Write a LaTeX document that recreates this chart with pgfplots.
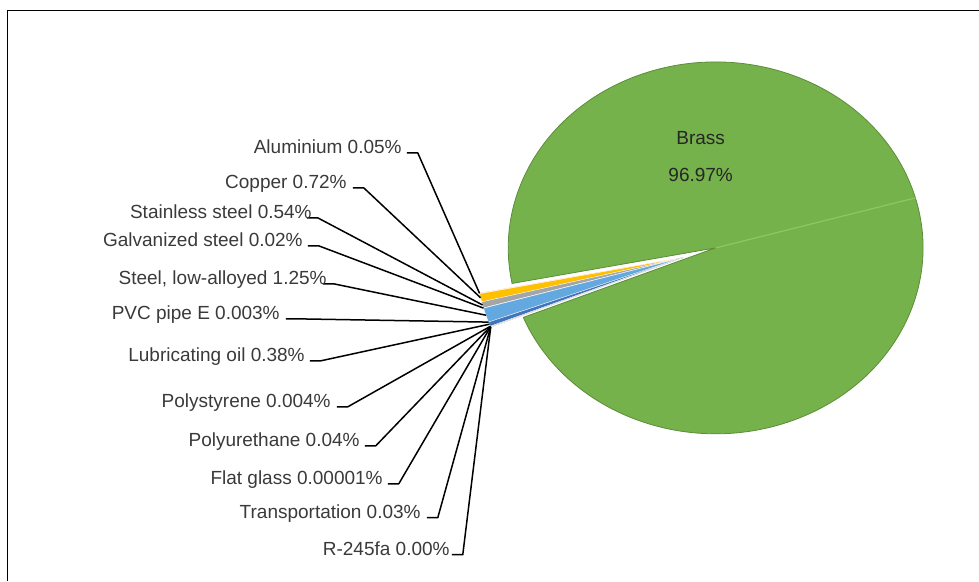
\documentclass[border=0pt]{standalone}
\usepackage{pgfplots}
\usepackage{pgfplotstable}
\pgfplotsset{compat=1.18}
\usepackage{fontspec}
\setmainfont{Liberation Sans}

\definecolor{brass}{HTML}{76B24C}
\definecolor{brassedge}{HTML}{5C8D3A}
\definecolor{brasslight}{HTML}{8CC763}
\definecolor{labelgray}{HTML}{3A3A3A}
\definecolor{cAlu}{HTML}{ED7D31}
\definecolor{cCu}{HTML}{FFC000}
\definecolor{cSS}{HTML}{A5A5A5}
\definecolor{cGS}{HTML}{C9C9C9}
\definecolor{cSt}{HTML}{64A8E0}
\definecolor{cPVC}{HTML}{264478}
\definecolor{cLub}{HTML}{3F75BF}
\definecolor{cPS}{HTML}{9E480E}
\definecolor{cPU}{HTML}{636363}
\definecolor{cFG}{HTML}{997300}
\definecolor{cTr}{HTML}{255E91}
\definecolor{cR}{HTML}{43682B}

% small slices, top to bottom; hx,hy = leader hook start, tx = right end of label
\pgfplotstableread[col sep=semicolon]{
label;value;color;hx;hy;tx
Aluminium 0.05\%;0.05;cAlu;407;153;402
Copper 0.72\%;0.72;cCu;353;188;347
Stainless steel 0.54\%;0.54;cSS;307;218;312
Galvanized steel 0.02\%;0.02;cGS;308;246;303
Steel, low-alloyed 1.25\%;1.25;cSt;323;284;327
PVC pipe E 0.003\%;0.003;cPVC;286;319;280
Lubricating oil 0.38\%;0.38;cLub;310;361;305
Polystyrene 0.004\%;0.004;cPS;337;407;331
Polyurethane 0.04\%;0.04;cPU;365;446;360
Flat glass 0.00001\%;0.00001;cFG;388;484;383
Transportation 0.03\%;0.03;cTr;427;518;421
R-245fa 0.00\%;0;cR;452;555;450
}\slices

\tikzset{lbl/.style={anchor=base east,inner sep=0pt,text=labelgray,font=\fontsize{19bp}{22bp}\selectfont}}

\begin{document}
\begin{tikzpicture}
\begin{axis}[x=1bp,y=1bp,y dir=reverse,xmin=0,xmax=979,ymin=0,ymax=581,
  hide axis,clip=false,scale only axis]
\path (axis cs:0,0) (axis cs:979,581);
% chart frame (cut off at right and bottom)
\draw[line width=1bp] (axis cs:8,581) -- (axis cs:8,11) -- (axis cs:979,11);

\def\brassv{96.97}
\def\cx{716}\def\cy{248}\def\rx{207.5}\def\ry{186}\def\ex{34}\def\midang{196.5}
\pgfplotstablegetrowsof{\slices}
\pgfmathtruncatemacro\nrows{\pgfplotsretval-1}
\def\smallsum{0}
\pgfplotsforeachungrouped \i in {0,...,\nrows}{%
  \pgfplotstablegetelem{\i}{value}\of\slices
  \pgfmathsetmacro\smallsum{\smallsum+\pgfplotsretval}}
\pgfmathsetmacro\tot{\smallsum+\brassv}
\pgfmathsetmacro\gap{\smallsum/\tot*360}

% Brass
\pgfmathsetmacro\bA{\midang+\gap/2}
\pgfmathsetmacro\bB{\midang-\gap/2+360}
\pgfmathsetmacro\px{\cx+\rx*cos(\bA)}
\pgfmathsetmacro\py{\cy-\ry*sin(\bA)}
\pgfmathsetmacro\qx{\cx+\rx*cos(15.6)}
\pgfmathsetmacro\qy{\cy-\ry*sin(15.6)}
\edef\temp{\noexpand\fill[brass,draw=brassedge,line width=0.8bp]
  (axis cs:\cx,\cy) -- (axis cs:\px,\py)
  arc[start angle=\bA,end angle=\bB,x radius=\rx bp,y radius=\ry bp] -- cycle;
  \noexpand\draw[brasslight,line width=1.2bp] (axis cs:\cx,\cy) -- (axis cs:\qx,\qy);}\temp

% exploded small slices
\pgfmathsetmacro\ax{\cx+\ex*cos(\midang)}
\pgfmathsetmacro\ay{\cy-\ex*sin(\midang)}
\pgfmathsetmacro\cur{\midang-\gap/2}
\pgfplotsforeachungrouped \i in {0,...,\nrows}{%
  \pgfplotstablegetelem{\i}{value}\of\slices \let\v\pgfplotsretval
  \pgfplotstablegetelem{\i}{color}\of\slices \let\c\pgfplotsretval
  \pgfmathsetmacro\aA{\cur}
  \pgfmathsetmacro\aB{\cur+\v/\tot*360}
  \pgfmathsetmacro\sx{\ax+\rx*cos(\aA)}
  \pgfmathsetmacro\sy{\ay-\ry*sin(\aA)}
  \edef\temp{\noexpand\fill[\c,draw=white,line width=0.3bp]
    (axis cs:\ax,\ay) -- (axis cs:\sx,\sy)
    arc[start angle=\aA,end angle=\aB,x radius=\rx bp,y radius=\ry bp] -- cycle;}\temp
  \let\cur\aB}

% leader lines and labels
\pgfmathsetmacro\cur{\midang-\gap/2}
\pgfplotsforeachungrouped \i in {0,...,\nrows}{%
  \pgfplotstablegetelem{\i}{value}\of\slices \let\v\pgfplotsretval
  \pgfplotstablegetelem{\i}{label}\of\slices \let\lab\pgfplotsretval
  \pgfplotstablegetelem{\i}{hx}\of\slices \let\hx\pgfplotsretval
  \pgfplotstablegetelem{\i}{hy}\of\slices \let\hy\pgfplotsretval
  \pgfplotstablegetelem{\i}{tx}\of\slices \let\tx\pgfplotsretval
  \pgfmathsetmacro\aB{\cur+\v/\tot*360}
  \pgfmathsetmacro\am{(\cur+\aB)/2}
  \pgfmathsetmacro\lx{\ax+\rx*cos(\am)}
  \pgfmathsetmacro\ly{\ay-\ry*sin(\am)}
  \pgfmathsetmacro\hxe{\hx+11}
  \pgfmathsetmacro\tyb{\hy+1}
  \edef\temp{\noexpand\draw[black,line width=1.5bp,line join=round]
    (axis cs:\hx,\hy) -- (axis cs:\hxe,\hy) -- (axis cs:\lx,\ly);
    \noexpand\node[lbl] at (axis cs:\tx,\tyb) {\unexpanded\expandafter{\lab}};}\temp
  \let\cur\aB}

\node[text=black!85,font=\fontsize{19bp}{22bp}\selectfont] at (axis cs:701,138) {Brass};
\node[text=black!85,font=\fontsize{19bp}{22bp}\selectfont] at (axis cs:701,175) {96.97\%};
\end{axis}
\end{tikzpicture}
\end{document}
